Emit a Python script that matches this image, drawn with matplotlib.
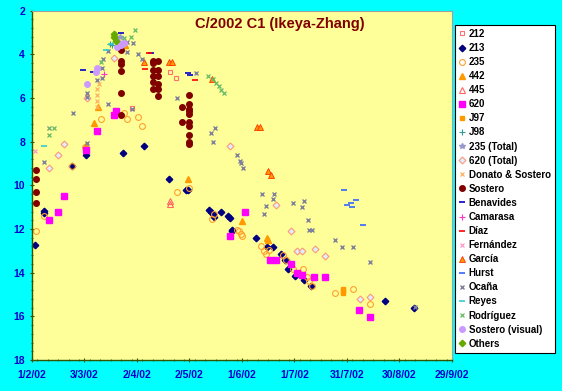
import datetime as dt

import matplotlib
matplotlib.use("Agg")
import matplotlib.pyplot as plt
import matplotlib.dates as mdates
from matplotlib.ticker import FuncFormatter, MultipleLocator

plt.rcParams['font.family'] = ['Liberation Sans', 'DejaVu Sans']

# days after 1 Feb 2002, magnitude
s212_day = [57.2, 79.0, 82.3]
s212_mag = [6.45, 4.80, 5.10]

s213_day = [1.5, 6.7, 6.7, 23.1, 30.9, 51.8, 64.0, 78.4, 88.0, 88.9, 101.4, 102.4, 103.3, 104.2,
            108.1, 112.3, 113.1, 114.1, 114.1, 128.2, 134.5, 137.8, 142.3, 144.4, 145.4, 146.4,
            150.2, 155.6, 159.4, 201.5, 218.5]
s213_mag = [12.72, 11.17, 11.27, 9.11, 8.61, 8.53, 8.21, 9.70, 10.19, 10.19, 11.11, 11.21, 11.33, 11.44,
            11.23, 11.42, 11.51, 12.03, 12.10, 12.41, 12.83, 12.83, 13.13, 13.40, 13.40, 13.82,
            14.16, 14.32, 14.63, 15.32, 15.62]

s235_day = [2.3, 6.7, 22.8, 30.2, 37.3, 39.2, 52.6, 54.5, 60.7, 62.7, 83.0, 89.7, 102.8, 104.1,
            117.1, 118.3, 119.2, 120.1, 131.1, 132.4, 133.9, 135.6, 143.5, 145.4, 149.3, 155.0,
            156.9, 158.2, 160.3, 173.1, 183.3, 193.2]
s235_mag = [12.09, 11.40, 9.11, 8.24, 7.50, 6.97, 6.68, 6.98, 6.88, 7.29, 10.30, 10.10, 11.52, 11.33,
            12.03, 12.11, 12.21, 12.32, 12.79, 13.02, 13.13, 12.98, 13.21, 13.44, 13.82, 13.82,
            14.20, 14.40, 14.63, 14.92, 14.73, 15.42]

s442_day = [30.6, 35.5, 37.5, 53.0, 89.3, 120.3, 134.2, 135.1]
s442_mag = [8.14, 7.14, 6.42, 3.59, 9.72, 11.63, 12.43, 12.52]

s445_day = [79.0, 79.0]
s445_mag = [10.72, 10.86]

s620_day = [9.5, 14.6, 18.3, 30.6, 37.3, 46.8, 47.8, 113.0, 122.0, 136.2, 139.4, 148.3, 151.2,
            154.2, 161.3, 167.2, 187.1, 193.2]
s620_mag = [11.60, 11.22, 10.50, 8.39, 7.50, 6.78, 6.59, 12.32, 11.22, 13.40, 13.40, 13.62, 14.02,
            14.12, 14.22, 14.22, 15.72, 16.02]

j97_day = [178.0, 178.0, 178.0]
j97_mag = [14.73, 14.83, 14.93]

j98_day = [44.6, 45.9]
j98_mag = [3.53, 3.58]

t235_day = [47.5, 50.5]
t235_mag = [3.30, 3.20]

t620_day = [9.5, 14.7, 18.5, 31.2, 46.8, 113.3, 139.3, 148.3, 151.4, 154.4, 161.7, 167.4, 187.5, 193.2]
t620_mag = [9.20, 8.62, 8.11, 6.02, 4.18, 8.21, 10.91, 12.10, 13.02, 13.02, 12.93, 13.24, 15.22, 15.12]

donato_day = [37.3, 37.3, 37.3, 37.3, 38.2]
donato_mag = [5.59, 5.87, 6.13, 6.40, 5.35]

sostero_day = [2.3, 2.3, 2.3, 2.3, 50.6, 50.6, 50.6, 50.6, 50.6, 50.6,
               69.2, 69.2, 69.2, 69.2, 69.2, 69.2, 72.1, 72.1, 72.1, 72.1, 72.1, 72.1,
               85.9, 85.9, 89.9, 89.9, 89.9, 89.9, 89.9, 89.9, 89.9, 89.9, 89.9, 89.9]
sostero_mag = [9.31, 9.69, 10.30, 10.81, 3.79, 4.29, 4.44, 4.78, 5.78, 6.78,
               4.29, 4.41, 4.71, 4.98, 5.28, 5.59, 4.29, 4.71, 4.98, 5.36, 5.59, 5.90,
               6.39, 7.09, 5.87, 6.28, 6.48, 6.60, 6.71, 7.09, 7.29, 7.70, 8.01, 8.11]

benavides_day = [29.3, 35.0, 50.7, 67.9, 89.0, 90.3]
benavides_mag = [4.70, 4.80, 3.04, 3.95, 4.87, 4.95]

camarasa_day = [49.0, 41.0]
camarasa_mag = [3.62, 4.90]

diaz_day = [64.8, 66.9, 93.3]
diaz_mag = [4.69, 3.94, 5.18]

fernandez_day = [1.5, 9.5]
fernandez_mag = [8.42, 7.36]

garcia_day = [63.9, 78.4, 80.3, 102.9, 128.8, 130.5, 134.9, 136.4]
garcia_mag = [4.34, 4.33, 4.33, 5.13, 7.32, 7.32, 9.33, 9.54]

hurst_day = [178.3, 179.9, 182.1, 185.2, 183.1, 189.3]
hurst_mag = [10.19, 10.91, 10.81, 10.68, 10.99, 11.80]

ocana_day = [6.7, 23.5, 31.2, 31.2, 31.6, 37.3, 39.8, 39.8, 40.5, 43.4, 43.5, 54.5, 57.7, 54.5,
             60.8, 62.9, 57.4, 83.1, 93.6, 102.4, 103.3, 104.7, 117.3, 118.6, 119.6, 120.6,
             131.6, 132.5, 133.5, 137.7, 138.5, 149.3, 155.3, 154.4, 157.5, 158.2, 160.3,
             173.1, 177.4, 183.7, 193.2, 219.1]
ocana_mag = [8.93, 6.69, 5.79, 5.97, 8.08, 5.18, 4.64, 5.10, 4.22, 3.83, 6.28, 3.45, 3.50, 3.88,
             3.99, 4.23, 6.51, 6.02, 4.87, 7.58, 8.01, 7.39, 8.61, 8.89, 8.97, 9.20,
             10.41, 11.33, 10.96, 10.61, 10.41, 10.83, 10.72, 10.99, 11.60, 12.03, 12.03,
             12.52, 12.83, 12.83, 13.51, 15.55]

reyes_day = [6.7, 42.1, 45.0]
reyes_mag = [8.19, 3.80, 3.54]

rodriguez_day = [9.5, 12.4, 9.5, 39.2, 52.6, 56.7, 58.7, 100.5, 103.3, 105.2, 107.1, 108.1, 109.5]
rodriguez_mag = [7.36, 7.38, 7.68, 4.34, 3.27, 3.19, 2.89, 4.99, 5.14, 5.33, 5.45, 5.64, 5.79]

sost_vis_day = [31.6, 36.7, 37.3, 48.4, 49.7, 51.1, 52.6]
sost_vis_mag = [5.36, 4.79, 4.64, 3.68, 3.50, 3.57, 3.50]

others_day = [46.8, 46.8, 48.2]
others_mag = [3.07, 3.22, 3.37]

start = dt.datetime(2002, 2, 1)


def to_dates(days):
    return [start + dt.timedelta(days=d) for d in days]


fig = plt.figure(figsize=(5.62, 3.91), dpi=100, facecolor='#00FFFF')
ax = fig.add_axes([0.0569, 0.0793, 0.7473, 0.8933])
ax.set_facecolor('#FFFF99')

series = [
    ('212', s212_day, s212_mag, dict(marker='s', mfc='none', mec='#FF7070', ms=3.5, mew=0.8)),
    ('213', s213_day, s213_mag, dict(marker='D', mfc='#000080', mec='#000080', ms=3.3)),
    ('235', s235_day, s235_mag, dict(marker='o', mfc='none', mec='#FFA030', ms=4.2, mew=0.8)),
    ('442', s442_day, s442_mag, dict(marker='^', mfc='#FF9900', mec='#FF9900', ms=4)),
    ('445', s445_day, s445_mag, dict(marker='^', mfc='none', mec='#FF6666', ms=4, mew=0.8)),
    ('620', s620_day, s620_mag, dict(marker='s', mfc='#FF00FF', mec='#FF00FF', ms=4)),
    ('J97', j97_day, j97_mag, dict(marker='s', mfc='#FF9900', mec='#FF9900', ms=3.5)),
    ('J98', j98_day, j98_mag, dict(marker='+', mec='#339999', ms=4, mew=0.8)),
    ('235 (Total)', t235_day, t235_mag, dict(marker='*', mfc='#9999CC', mec='#9999CC', ms=4)),
    ('620 (Total)', t620_day, t620_mag, dict(marker='D', mfc='#DDEEFF', mec='#FF9977', ms=3.5, mew=0.8)),
    ('Donato & Sostero', donato_day, donato_mag, dict(marker='x', mec='#FFB060', ms=3.5, mew=0.9)),
    ('Sostero', sostero_day, sostero_mag, dict(marker='o', mfc='#800000', mec='#800000', ms=4)),
    ('Benavides', benavides_day, benavides_mag, dict(marker='_', mec='#0000CC', ms=5, mew=1.2)),
    ('Camarasa', camarasa_day, camarasa_mag, dict(marker='+', mec='#FF33CC', ms=4, mew=0.8)),
    ('Díaz', diaz_day, diaz_mag, dict(marker='_', mec='#FF0000', ms=5, mew=1.2)),
    ('Fernández', fernandez_day, fernandez_mag, dict(marker='x', mec='#FF99CC', ms=3.5, mew=0.9)),
    ('García', garcia_day, garcia_mag, dict(marker='^', mfc='#FF9900', mec='#FF3300', ms=4, mew=0.6)),
    ('Hurst', hurst_day, hurst_mag, dict(marker='_', mec='#3366FF', ms=5, mew=1.2)),
    ('Ocaña', ocana_day, ocana_mag, dict(marker='x', mec='#7F8099', ms=3.5, mew=1.0)),
    ('Reyes', reyes_day, reyes_mag, dict(marker='_', mec='#33CCCC', ms=5, mew=1.2)),
    ('Rodríguez', rodriguez_day, rodriguez_mag, dict(marker='x', mec='#66BB66', ms=3.5, mew=0.9)),
    ('Sostero (visual)', sost_vis_day, sost_vis_mag, dict(marker='o', mfc='#CC99FF', mec='#CC99FF', ms=4)),
    ('Others', others_day, others_mag, dict(marker='D', mfc='#66AA00', mec='#66AA00', ms=3.3)),
]

for label, days, mags, style in series:
    ax.plot(to_dates(days), mags, linestyle='none', label=label, **style)

ax.set_ylim(18, 2)
ax.set_xlim(start, start + dt.timedelta(days=240))

ax.yaxis.set_major_locator(MultipleLocator(2))
ax.yaxis.set_minor_locator(MultipleLocator(0.4))
ax.set_xticks(to_dates([0, 30, 60, 90, 120, 150, 180, 210, 240]))
ax.xaxis.set_minor_locator(mdates.DayLocator(interval=6))
ax.xaxis.set_major_formatter(FuncFormatter(
    lambda v, pos: (lambda d: f"{d.day}/{d.month}/{d:%y}")(mdates.num2date(v))))

for lab in ax.get_xticklabels() + ax.get_yticklabels():
    lab.set_fontweight('bold')
ax.tick_params(axis='both', which='major', labelsize=7.5, labelcolor='#0000CC',
               color='#335500', length=3, direction='inout', width=0.8)
ax.tick_params(axis='both', which='minor', color='#335500', length=2, direction='inout', width=0.6)
ax.tick_params(axis='x', pad=6)

for side in ['left', 'bottom']:
    ax.spines[side].set_color('#335500')
    ax.spines[side].set_linewidth(1.0)
for side in ['top', 'right']:
    ax.spines[side].set_color('#A0A0A0')
    ax.spines[side].set_linewidth(0.8)

fig.text(280 / 562, 0.939, 'C/2002 C1 (Ikeya-Zhang)', color='#800000', fontsize=10.5,
         fontweight='bold', ha='center', va='center')

leg = fig.legend(loc='upper left', bbox_to_anchor=(455 / 562, 1 - 25 / 391),
                 prop={'size': 7, 'weight': 'bold'}, frameon=True, fancybox=False,
                 edgecolor='black', facecolor='white', framealpha=1,
                 labelspacing=0.42, handlelength=0.6, handletextpad=0.4,
                 borderpad=0.4, borderaxespad=0)
leg.get_frame().set_linewidth(0.8)

fig.savefig('out.png', dpi=100, facecolor=fig.get_facecolor())
